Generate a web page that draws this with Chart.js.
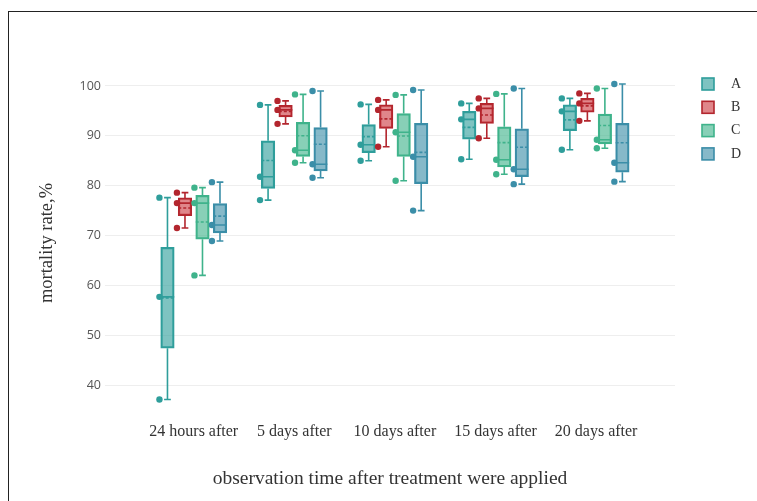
<!DOCTYPE html>
<html><head><meta charset="utf-8">
<script src="https://cdn.jsdelivr.net/npm/chart.js@4.4.1/dist/chart.umd.min.js"></script>
<style>
html,body{margin:0;padding:0;background:#fff;}
#wrap{position:relative;width:757px;height:501px;overflow:hidden;background:#fff;}
#frame{position:absolute;left:8px;top:11px;width:900px;height:700px;border-left:1.5px solid #222;border-top:1.5px solid #222;}
canvas{position:absolute;left:0;top:0;}
</style></head><body>
<div id="wrap"><div id="frame"></div><canvas id="c" width="757" height="501"></canvas></div>
<script>
// ---- data ----
const categories = ['24 hours after', '5 days after', '10 days after', '15 days after', '20 days after'];
const seriesNames = ['A', 'B', 'C', 'D'];
const valuesA = [[37.1, 57.7, 77.6], [77.1, 81.8, 96.2], [85.0, 88.2, 96.3], [85.3, 93.3, 96.5], [87.2, 94.9, 97.5]];
const valuesB = [[71.5, 76.5, 78.6], [92.4, 95.2, 97.0], [87.8, 95.2, 97.2], [89.5, 95.5, 97.5], [93.0, 96.5, 98.5]];
const valuesC = [[62.0, 76.5, 79.6], [84.6, 87.1, 98.3], [81.0, 90.7, 98.2], [82.3, 85.2, 98.4], [87.5, 89.2, 99.5]];
const valuesD = [[68.9, 72.1, 80.7], [81.6, 84.3, 99.0], [75.0, 85.8, 99.2], [80.3, 83.3, 99.5], [80.8, 84.6, 100.4]];
const yTicks = [40, 50, 60, 70, 80, 90, 100];
const yTitle = 'mortality rate,%';
const xTitle = 'observation time after treatment were applied';

// ---- styles ----
const lineColors = ['#2f9e9b', '#b3262e', '#3fb38b', '#3b8ea8'];
const fillColors = ['rgba(47,158,155,0.62)', 'rgba(205,60,66,0.62)', 'rgba(63,179,139,0.62)', 'rgba(59,142,168,0.62)'];
const groupOffsets = [-0.261, -0.087, 0.087, 0.261];
const pointShift = 0.08;
const serif = '"Liberation Serif", "Times New Roman", serif';

const allValues = [valuesA, valuesB, valuesC, valuesD];

function quantile(sorted, p) {
  const pos = (sorted.length - 1) * p;
  const lo = Math.floor(pos), hi = Math.ceil(pos);
  return sorted[lo] + (sorted[hi] - sorted[lo]) * (pos - lo);
}
function stats(vals) {
  const s = vals.slice().sort((a, b) => a - b);
  return {
    min: s[0], max: s[s.length - 1],
    q1: quantile(s, 0.25), med: quantile(s, 0.5), q3: quantile(s, 0.75),
    mean: s.reduce((a, b) => a + b, 0) / s.length
  };
}

const datasets = [];
allValues.forEach((vals, s) => {
  const st = vals.map(stats);
  datasets.push({
    type: 'bar',
    label: seriesNames[s],
    data: st.map((t, i) => ({ x: i + groupOffsets[s], y: [t.q1, t.q3] })),
    boxStats: st,
    backgroundColor: fillColors[s],
    borderColor: lineColors[s],
    borderWidth: 1.6,
    borderSkipped: false,
    barThickness: 13.5,
    grouped: false,
    order: 2
  });
});
allValues.forEach((vals, s) => {
  const pts = [];
  vals.forEach((arr, i) => arr.forEach(v => pts.push({ x: i + groupOffsets[s] - pointShift, y: v })));
  datasets.push({
    type: 'scatter',
    label: seriesNames[s] + ' points',
    data: pts,
    pointRadius: 3.2,
    pointBackgroundColor: lineColors[s],
    pointBorderWidth: 0,
    order: 0
  });
});

const boxDecor = {
  id: 'boxDecor',
  afterDatasetDraw(chart, args) {
    const meta = args.meta;
    if (meta.type !== 'bar') return;
    const ds = chart.data.datasets[args.index];
    const xs = chart.scales.x, ys = chart.scales.y;
    const ctx = chart.ctx;
    ctx.save();
    ctx.strokeStyle = ds.borderColor;
    ctx.lineWidth = 1.6;
    ds.boxStats.forEach((t, i) => {
      const cx = xs.getPixelForValue(ds.data[i].x);
      const hw = ds.barThickness / 2;
      const cap = hw / 2;
      const yMin = ys.getPixelForValue(t.min), yMax = ys.getPixelForValue(t.max);
      const yQ1 = ys.getPixelForValue(t.q1), yQ3 = ys.getPixelForValue(t.q3);
      ctx.setLineDash([]);
      ctx.beginPath();
      ctx.moveTo(cx, yQ3); ctx.lineTo(cx, yMax);
      ctx.moveTo(cx - cap, yMax); ctx.lineTo(cx + cap, yMax);
      ctx.moveTo(cx, yQ1); ctx.lineTo(cx, yMin);
      ctx.moveTo(cx - cap, yMin); ctx.lineTo(cx + cap, yMin);
      const yMed = ys.getPixelForValue(t.med);
      ctx.moveTo(cx - hw, yMed); ctx.lineTo(cx + hw, yMed);
      ctx.stroke();
      const yMean = ys.getPixelForValue(t.mean);
      ctx.setLineDash([3, 2]);
      ctx.beginPath();
      ctx.moveTo(cx - hw, yMean); ctx.lineTo(cx + hw, yMean);
      ctx.stroke();
    });
    ctx.restore();
  }
};

const sideLegend = {
  id: 'sideLegend',
  afterDraw(chart) {
    const ctx = chart.ctx;
    ctx.save();
    ctx.font = '14px ' + serif;
    ctx.textBaseline = 'middle';
    ctx.textAlign = 'left';
    seriesNames.forEach((name, s) => {
      const cy = 84 + s * 23.3;
      ctx.fillStyle = fillColors[s];
      ctx.fillRect(702, cy - 6, 12, 12);
      ctx.strokeStyle = lineColors[s];
      ctx.lineWidth = 1.6;
      ctx.strokeRect(702, cy - 6, 12, 12);
      ctx.fillStyle = '#333';
      ctx.fillText(name, 731, cy);
    });
    ctx.restore();
  }
};

new Chart(document.getElementById('c'), {
  type: 'bar',
  data: { datasets },
  options: {
    responsive: false,
    animation: false,
    layout: { padding: { left: 0, right: 82, top: 66, bottom: 0 } },
    plugins: { legend: { display: false }, tooltip: { enabled: false } },
    scales: {
      x: {
        type: 'linear',
        offset: false,
        min: -0.882, max: 4.784,
        afterBuildTicks: (sc) => { sc.ticks = categories.map((c, i) => ({ value: i })); },
        afterFit: (sc) => { sc.height = 81; },
        ticks: {
          autoSkip: false, maxRotation: 0, padding: -6,
          color: '#333', font: { family: serif, size: 16 },
          callback: (v) => categories[v] !== undefined ? categories[v] : ''
        },
        grid: { display: false },
        border: { display: false },
        title: { display: true, text: xTitle, color: '#333', font: { family: serif, size: 19.5 }, padding: { top: 0, bottom: 10 } }
      },
      y: {
        min: 33, max: 104,
        afterBuildTicks: (sc) => { sc.ticks = yTicks.map(v => ({ value: v })); },
        afterFit: (sc) => { sc.width = 105; },
        ticks: { padding: 4, color: '#555', font: { family: '"Open Sans", sans-serif', size: 12.5 } },
        grid: { color: '#eeeeee', drawTicks: false, lineWidth: 1 },
        border: { display: false },
        title: { display: true, text: yTitle, color: '#333', font: { family: serif, size: 18.5 }, padding: { top: 36, bottom: 0 } }
      }
    }
  },
  plugins: [boxDecor, sideLegend]
});
</script>
</body></html>
